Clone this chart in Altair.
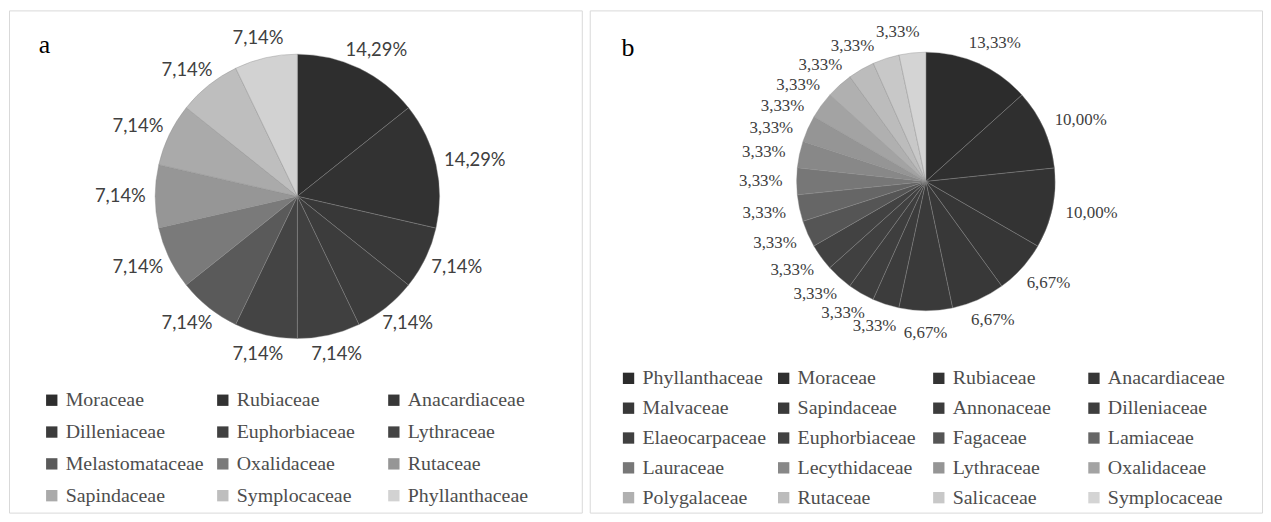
import altair as alt
import pandas as pd

# ---- Panel a data ----
families_a = ["Moraceae", "Rubiaceae", "Anacardiaceae", "Dilleniaceae", "Euphorbiaceae",
              "Lythraceae", "Melastomataceae", "Oxalidaceae", "Rutaceae", "Sapindaceae",
              "Symplocaceae", "Phyllanthaceae"]
values_a = [14.29, 14.29, 7.14, 7.14, 7.14, 7.14, 7.14, 7.14, 7.14, 7.14, 7.14, 7.14]
labels_a = ["14,29%", "14,29%", "7,14%", "7,14%", "7,14%", "7,14%", "7,14%", "7,14%",
            "7,14%", "7,14%", "7,14%", "7,14%"]
colors_a = ["#2e2e2e", "#323232", "#383838", "#3c3c3c", "#404040", "#444444",
            "#5a5a5a", "#7a7a7a", "#969696", "#aaaaaa", "#bebebe", "#d2d2d2"]

# ---- Panel b data ----
families_b = ["Phyllanthaceae", "Moraceae", "Rubiaceae", "Anacardiaceae", "Malvaceae",
              "Sapindaceae", "Annonaceae", "Dilleniaceae", "Elaeocarpaceae", "Euphorbiaceae",
              "Fagaceae", "Lamiaceae", "Lauraceae", "Lecythidaceae", "Lythraceae",
              "Oxalidaceae", "Polygalaceae", "Rutaceae", "Salicaceae", "Symplocaceae"]
values_b = [13.33, 10.00, 10.00, 6.67, 6.67, 6.67, 3.33, 3.33, 3.33, 3.33,
            3.33, 3.33, 3.33, 3.33, 3.33, 3.33, 3.33, 3.33, 3.33, 3.33]
labels_b = ["13,33%", "10,00%", "10,00%", "6,67%", "6,67%", "6,67%"] + ["3,33%"] * 14
colors_b = ["#2c2c2c", "#2f2f2f", "#333333", "#363636", "#383838", "#3a3a3a",
            "#3c3c3c", "#3e3e3e", "#404040", "#424242", "#555555", "#666666",
            "#777777", "#888888", "#959595", "#a3a3a3", "#b0b0b0", "#bcbcbc",
            "#c8c8c8", "#d4d4d4"]

df_a = pd.DataFrame({"family": families_a, "value": values_a, "label": labels_a,
                     "idx": list(range(len(families_a)))})
df_b = pd.DataFrame({"family": families_b, "value": values_b, "label": labels_b,
                     "idx": list(range(len(families_b)))})


def panel(df, families, colors, cx, cy, r, lab_r, char_w, half_h, spread, label_font,
          label_size, letter, lx, ly, leg_x, leg_y, cols, row_pad, col_pad, w, h):
    arcs = alt.Chart(df).mark_arc(radius=r, x=cx, y=cy, stroke="#8a8a8a",
                                  strokeWidth=0.4).encode(
        theta=alt.Theta("value:Q", stack=True),
        order=alt.Order("idx:Q"),
        color=alt.Color(
            "family:N",
            sort=families,
            scale=alt.Scale(domain=families, range=colors),
            legend=alt.Legend(
                title=None, orient="none", legendX=leg_x, legendY=leg_y,
                direction="horizontal", columns=cols, symbolType="square",
                symbolSize=130, symbolStrokeWidth=0, symbolOpacity=1,
                labelFont="Liberation Serif", labelFontSize=20, labelColor="#4d4d4d",
                labelOffset=4, labelLimit=300, rowPadding=row_pad,
                columnPadding=col_pad, gridAlign="all", padding=0,
            ),
        ),
    )
    # Data labels outside each slice at the slice's mid angle; crowded labels in the
    # upper-left quarter are spread counter-clockwise (as the original chart does).
    texts = alt.Chart(df).transform_joinaggregate(
        total="sum(value)"
    ).transform_window(
        cum="sum(value)", sort=[alt.SortField("idx")], frame=[None, 0]
    ).transform_calculate(
        deg="(datum.cum - datum.value / 2) / datum.total * 360",
        hw=f"length(datum.label) * {char_w} / 2",
    ).transform_calculate(
        ang=f"(datum.deg - (datum.deg > 270 ? {spread} * pow(datum.deg - 270, 2) * (360 - datum.deg) : 0)) * PI / 180",
    ).transform_calculate(
        px=f"{cx} + ({lab_r} + datum.hw) * sin(datum.ang)",
        py=f"{cy} - ({lab_r} + {half_h}) * cos(datum.ang)",
    ).mark_text(font=label_font, fontSize=label_size, color="#404040",
                align="center", baseline="middle").encode(
        x=alt.X("px:Q", scale=None, axis=None),
        y=alt.Y("py:Q", scale=None, axis=None),
        text="label:N",
    )
    title = alt.Chart(pd.DataFrame({"t": [letter]})).mark_text(
        x=lx, y=ly, align="left", baseline="alphabetic", font="Liberation Serif",
        fontSize=26, color="#000000"
    ).encode(text="t:N")
    return alt.layer(arcs, texts, title).properties(width=w, height=h)


pa = panel(df_a, families_a, colors_a, 290, 187, 143, 153, 10, 10, 0, "Lato", 18.5,
           "a", 30, 43, 33, 382, 3, 12, 9, 576, 505)
pb = panel(df_b, families_b, colors_b, 338, 172, 130, 144, 8.8, 8.5, 0.00009,
           "Liberation Serif", 17, "b", 32, 46, 29, 360, 4, 10, 7, 676, 505)

chart = alt.hconcat(pa, pb, spacing=6).resolve_scale(color="independent").resolve_legend(
    color="independent"
).properties(padding=0).configure_view(stroke="#d9d9d9", strokeWidth=1)

chart.save("out.html", embed_options={"renderer": "svg", "actions": False})
